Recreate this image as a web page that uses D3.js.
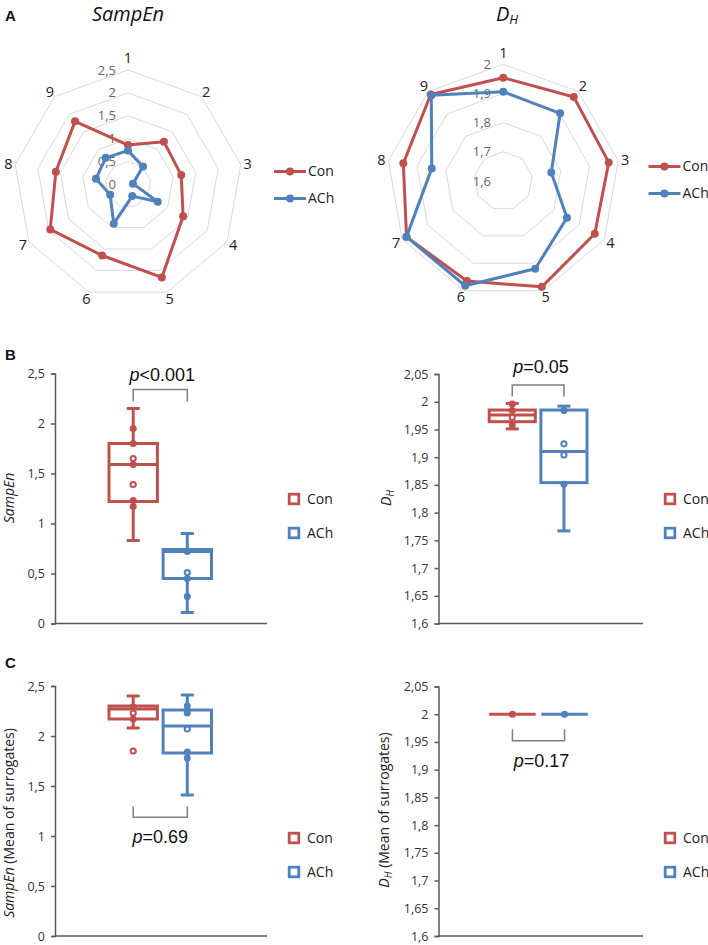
<!DOCTYPE html>
<html><head><meta charset="utf-8">
<script src="https://cdn.jsdelivr.net/npm/d3@7"></script>
<style>
html,body{margin:0;padding:0;background:#fff;}
svg{display:block;font-family:"Open Sans","Noto Sans",sans-serif;}
</style></head>
<body><svg id="c" width="708" height="945"></svg>
<script>
// ---------- DATA ----------
const radarAxes = ["1","2","3","4","5","6","7","8","9"];
const groups = ["Con","ACh"];
// Panel A radar values
const sampEnCon = [0.86, 1.22, 1.18, 1.39, 2.16, 1.65, 1.96, 1.60, 1.80];
const sampEnACh = [0.74, 0.51, 0.11, 0.75, 0.27, 0.91, 0.45, 0.71, 0.76];
const dhCon = [1.954, 1.976, 1.967, 1.962, 1.986, 1.965, 1.983, 1.948, 1.987];
const dhACh = [1.906, 1.903, 1.767, 1.852, 1.920, 1.982, 1.983, 1.849, 1.984];
const sampEnRadarTicks = [0, 0.5, 1, 1.5, 2, 2.5];
const dhRadarTicks = [1.6, 1.7, 1.8, 1.9, 2.0];
// Box summaries: [min, q1, median, q3, max]
const bSampEnCon = [0.83, 1.22, 1.59, 1.80, 2.15];
const bSampEnACh = [0.11, 0.45, 0.72, 0.74, 0.90];
const bDhCon = [1.951, 1.964, 1.976, 1.985, 1.997];
const bDhACh = [1.767, 1.854, 1.910, 1.985, 1.992];
const cSampEnCon = [2.08, 2.17, 2.27, 2.30, 2.40];
const cSampEnACh = [1.41, 1.83, 2.10, 2.26, 2.41];
const cDhCon = [2.0, 2.0, 2.0, 2.0, 2.0];
const cDhACh = [2.0, 2.0, 2.0, 2.0, 2.0];
// Individual points (filled / hollow)
const bSampEnConPts = [1.95, 1.80, 1.59, 1.23, 1.17];
const bSampEnConHollow = [1.65, 1.39];
const bSampEnAChPts = [0.72, 0.45, 0.27];
const bSampEnAChHollow = [0.51];
const bDhConPts = [1.996, 1.984, 1.958];
const bDhConHollow = [1.972];
const bDhAChPts = [1.984, 1.851];
const bDhAChHollow = [1.924, 1.904];
const cSampEnConPts = [2.29, 2.17];
const cSampEnConHollow = [2.23, 1.85];
const cSampEnAChPts = [2.30, 2.23, 1.84, 1.78];
const cSampEnAChHollow = [2.07];
const cDhConPts = [2.0];
const cDhAChPts = [2.0];
// Axis ticks
const sampEnTicks = [0, 0.5, 1, 1.5, 2, 2.5];
const dhTicks = [1.6, 1.65, 1.7, 1.75, 1.8, 1.85, 1.9, 1.95, 2.0, 2.05];
const pLabels = ["<0.001", "=0.05", "=0.69", "=0.17"];

// ---------- STYLE ----------
const RED = "#c0504d", BLUE = "#4f81bd";
const colors = {Con: RED, ACh: BLUE};
const fmt = d => String(+d.toFixed(2)).replace(".", ",");
const svg = d3.select("#c");

// ---------- RADAR ----------
function radar(cx, cy, R, domain, ticks, con, ach, tickRightX, legend) {
  const g = svg.append("g");
  const r = d3.scaleLinear().domain(domain).range([0, R]);
  const ang = d3.scaleLinear().domain([0, radarAxes.length]).range([0, 2 * Math.PI]);
  const ring = d3.lineRadial().angle((d, i) => ang(i)).radius(d => r(d)).curve(d3.curveLinearClosed);
  ticks.filter(t => t > domain[0]).forEach(t => {
    g.append("path").attr("transform", `translate(${cx},${cy})`)
      .attr("d", ring(radarAxes.map(() => t)))
      .attr("fill", "none").attr("stroke", "#d9d9d9").attr("stroke-width", 1);
  });
  ticks.forEach(t => {
    g.append("text").attr("x", tickRightX).attr("y", cy - r(t)).attr("dy", "0.35em")
      .attr("text-anchor", "end").attr("font-size", 13).attr("fill", "#666").text(fmt(t));
  });
  radarAxes.forEach((a, i) => {
    const th = ang(i);
    const rr = R + 7 + (i === 0 ? 5 : 0);
    g.append("text").attr("x", cx + rr * Math.sin(th)).attr("y", cy - rr * Math.cos(th))
      .attr("dy", "0.36em").attr("text-anchor", "middle").attr("font-size", 14.5).attr("fill", "#222").text(a);
  });
  [[con, RED], [ach, BLUE]].forEach(([vals, col]) => {
    g.append("path").attr("transform", `translate(${cx},${cy})`).attr("d", ring(vals))
      .attr("fill", "none").attr("stroke", col).attr("stroke-width", 3).attr("stroke-linejoin", "round");
    g.selectAll(null).data(vals).join("circle")
      .attr("cx", (d, i) => cx + r(d) * Math.sin(ang(i)))
      .attr("cy", (d, i) => cy - r(d) * Math.cos(ang(i)))
      .attr("r", 4).attr("fill", col);
  });
  // legend
  groups.forEach((gname, k) => {
    const y = legend.y[k];
    g.append("line").attr("x1", legend.x).attr("x2", legend.x + 32).attr("y1", y).attr("y2", y)
      .attr("stroke", colors[gname]).attr("stroke-width", 3);
    g.append("circle").attr("cx", legend.x + 16).attr("cy", y).attr("r", 4).attr("fill", colors[gname]);
    g.append("text").attr("x", legend.x + 34).attr("y", y).attr("dy", "0.35em")
      .attr("font-size", 14).attr("fill", "#222").text(gname);
  });
}

radar(128, 184.5, 114.5, [0, 2.5], sampEnRadarTicks, sampEnCon, sampEnACh, 116, {x: 274, y: [171.5, 198.5]});
radar(503.3, 181, 116.7, [1.6, 2.0], dhRadarTicks, dhCon, dhACh, 491, {x: 648.5, y: [166.5, 193.5]});

// Titles
svg.append("text").attr("x", 128).attr("y", 21).attr("text-anchor", "middle")
  .attr("font-size", 20).attr("font-style", "italic").attr("fill", "#111").text("SampEn");
const th = svg.append("text").attr("x", 507).attr("y", 21).attr("text-anchor", "middle")
  .attr("font-size", 20).attr("font-style", "italic").attr("fill", "#111");
th.append("tspan").text("D");
th.append("tspan").attr("font-size", 13).attr("dy", 3).text("H");

// Panel letters
[["A", 5, 21], ["B", 5, 360], ["C", 5, 668]].forEach(([t, x, y]) => {
  svg.append("text").attr("x", x).attr("y", y).attr("font-family", "Liberation Sans, Arial, sans-serif")
    .attr("font-weight", "bold").attr("font-size", 15).attr("fill", "#111").text(t);
});

// ---------- BOX PLOTS ----------
function boxPanel(o) {
  const g = svg.append("g");
  const y = d3.scaleLinear().domain(o.domain).range([o.yBot, o.yTop]);
  const x = d3.scaleBand().domain(groups).range(o.band).paddingInner(0.05).paddingOuter(0);
  // axes
  const ax = g.append("g").attr("transform", `translate(${o.x0},0)`)
    .call(d3.axisLeft(y).tickValues(o.ticks).tickFormat(fmt).tickSize(4).tickPadding(6));
  ax.select(".domain").attr("stroke", "#595959").attr("stroke-width", 1.5);
  ax.selectAll(".tick line").attr("stroke", "#595959").attr("stroke-width", 1.5);
  ax.selectAll(".tick text").attr("font-size", 12.5).attr("fill", "#333")
    .attr("font-family", "Open Sans, sans-serif");
  g.append("line").attr("x1", o.x0).attr("x2", o.x1).attr("y1", o.yBot).attr("y2", o.yBot)
    .attr("stroke", "#595959").attr("stroke-width", 1.5);
  // boxes
  o.data.forEach((s, k) => {
    const gname = groups[k], col = colors[gname];
    const bx = x(gname), bw = x.bandwidth(), cxm = bx + bw / 2;
    const [mn, q1, md, q3, mx] = s.box;
    const cap = 13;
    g.append("line").attr("x1", cxm).attr("x2", cxm).attr("y1", y(mx)).attr("y2", y(q3))
      .attr("stroke", col).attr("stroke-width", 3);
    g.append("line").attr("x1", cxm).attr("x2", cxm).attr("y1", y(q1)).attr("y2", y(mn))
      .attr("stroke", col).attr("stroke-width", 3);
    if (mx > q3) g.append("line").attr("x1", cxm - cap / 2).attr("x2", cxm + cap / 2).attr("y1", y(mx)).attr("y2", y(mx))
      .attr("stroke", col).attr("stroke-width", 3);
    if (mn < q1) g.append("line").attr("x1", cxm - cap / 2).attr("x2", cxm + cap / 2).attr("y1", y(mn)).attr("y2", y(mn))
      .attr("stroke", col).attr("stroke-width", 3);
    if (q3 > q1) {
      g.append("rect").attr("x", bx + 1.5).attr("width", bw - 3).attr("y", y(q3)).attr("height", y(q1) - y(q3))
        .attr("fill", "#fff").attr("stroke", col).attr("stroke-width", 3);
    }
    g.append("line").attr("x1", bx + 1.5).attr("x2", bx + bw - 1.5).attr("y1", y(md)).attr("y2", y(md))
      .attr("stroke", col).attr("stroke-width", 3);
    g.selectAll(null).data(s.pts).join("circle").attr("cx", cxm).attr("cy", d => y(d))
      .attr("r", 3.5).attr("fill", col);
    g.selectAll(null).data(s.hollow || []).join("circle").attr("cx", cxm).attr("cy", d => y(d))
      .attr("r", 2.6).attr("fill", "#fff").attr("stroke", col).attr("stroke-width", 2);
  });
  // bracket
  const c0 = x("Con") + x.bandwidth() / 2, c1 = x("ACh") + x.bandwidth() / 2;
  const b = o.bracket;
  g.append("path").attr("d", `M${c0},${b.leg}V${b.y}H${c1}V${b.leg}`)
    .attr("fill", "none").attr("stroke", "#7f7f7f").attr("stroke-width", 1.5);
  const pt = g.append("text").attr("x", (c0 + c1) / 2 + b.dx).attr("y", b.ty).attr("text-anchor", "middle")
    .attr("font-family", "Liberation Sans, Arial, sans-serif").attr("font-size", 18).attr("fill", "#111");
  pt.append("tspan").attr("font-style", "italic").text("p");
  pt.append("tspan").text(b.label);
  // y title
  const yt = g.append("text").attr("transform", `translate(${o.titleX},${o.titleY}) rotate(-90)`)
    .attr("text-anchor", "middle").attr("font-size", 14).attr("fill", "#222");
  o.title(yt);
  // legend
  groups.forEach((gname, k) => {
    const ly = o.legend.y[k];
    g.append("rect").attr("x", o.legend.x - 4.8).attr("y", ly - 4.8).attr("width", 9.6).attr("height", 9.6)
      .attr("fill", "#fff").attr("stroke", colors[gname]).attr("stroke-width", 2.8);
    g.append("text").attr("x", o.legend.x + 13).attr("y", ly).attr("dy", "0.35em")
      .attr("font-size", 14).attr("fill", "#222").text(gname);
  });
}

const sampEnTitle = (t, extra) => {
  t.append("tspan").attr("font-style", "italic").text("SampEn");
  if (extra) t.append("tspan").text(" " + extra);
};
const dhTitle = (t, extra) => {
  t.append("tspan").attr("font-style", "italic").text("D");
  t.append("tspan").attr("font-style", "italic").attr("font-size", 10).attr("dy", 3).text("H");
  if (extra) t.append("tspan").attr("dy", -3).text(" " + extra);
};

boxPanel({x0: 55, x1: 267, yTop: 373.5, yBot: 623.5, domain: [0, 2.5], ticks: sampEnTicks,
  band: [107.5, 213], data: [{box: bSampEnCon, pts: bSampEnConPts, hollow: bSampEnConHollow},
                             {box: bSampEnACh, pts: bSampEnAChPts, hollow: bSampEnAChHollow}],
  bracket: {y: 389.5, leg: 401.5, ty: 380.5, label: pLabels[0], dx: 2},
  titleX: 14, titleY: 498, title: t => sampEnTitle(t), legend: {x: 294, y: [499, 533]}});

boxPanel({x0: 438.5, x1: 643, yTop: 374, yBot: 623.5, domain: [1.6, 2.05], ticks: dhTicks,
  band: [487.7, 588.5], data: [{box: bDhCon, pts: bDhConPts, hollow: bDhConHollow},
                               {box: bDhACh, pts: bDhAChPts, hollow: bDhAChHollow}],
  bracket: {y: 385, leg: 396.5, ty: 373.3, label: pLabels[1], dx: 3},
  titleX: 391, titleY: 498, title: t => dhTitle(t), legend: {x: 670, y: [499, 533]}});

boxPanel({x0: 55, x1: 267, yTop: 686, yBot: 936, domain: [0, 2.5], ticks: sampEnTicks,
  band: [107.5, 213], data: [{box: cSampEnCon, pts: cSampEnConPts, hollow: cSampEnConHollow},
                             {box: cSampEnACh, pts: cSampEnAChPts, hollow: cSampEnAChHollow}],
  bracket: {y: 817.3, leg: 806.5, ty: 842.7, label: pLabels[2], dx: 0},
  titleX: 14, titleY: 823, title: t => sampEnTitle(t, "(Mean of surrogates)"), legend: {x: 294, y: [838, 872]}});

boxPanel({x0: 438.5, x1: 643, yTop: 686.5, yBot: 936, domain: [1.6, 2.05], ticks: dhTicks,
  band: [487.7, 589.3], data: [{box: cDhCon, pts: cDhConPts, hollow: []},
                               {box: cDhACh, pts: cDhAChPts, hollow: []}],
  bracket: {y: 740.7, leg: 729.3, ty: 766.7, label: pLabels[3], dx: 3},
  titleX: 389, titleY: 810, title: t => dhTitle(t, "(Mean of surrogates)"), legend: {x: 670, y: [838, 872]}});
</script>
</body></html>
